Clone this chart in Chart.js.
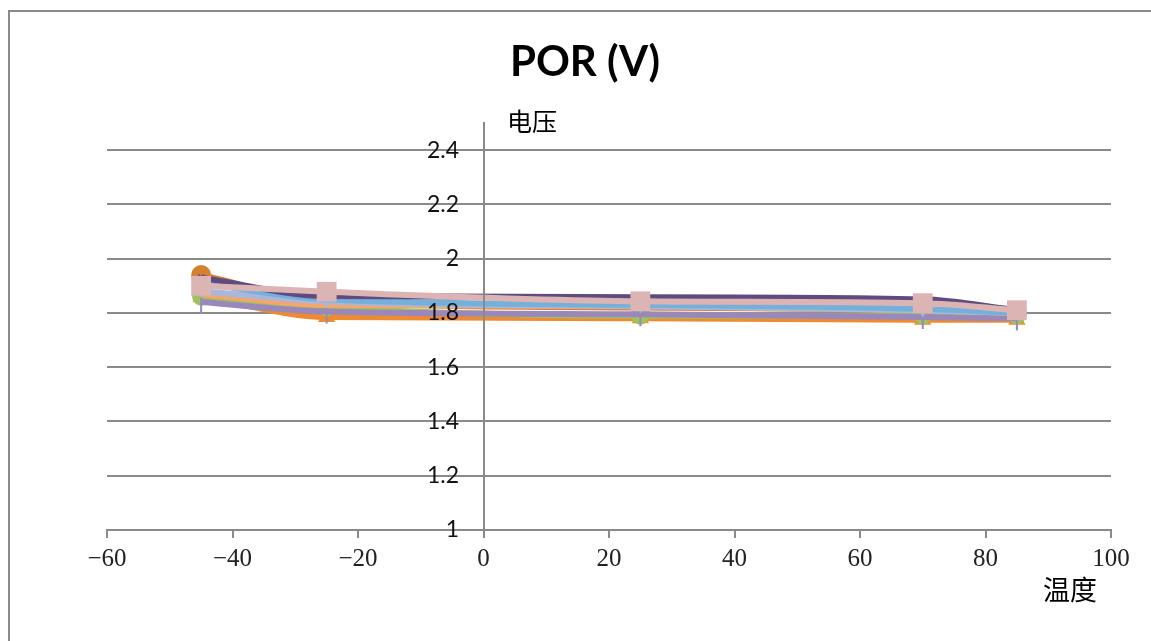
<!DOCTYPE html>
<html>
<head>
<meta charset="utf-8">
<script src="https://cdn.jsdelivr.net/npm/chart.js@4"></script>
<style>
	html, body { margin: 0; padding: 0; background: #fff; }
	#wrap { width: 1151px; height: 641px; position: relative; }
</style>
</head>
<body>
<div id="wrap"><canvas id="graph" width="1151" height="641"></canvas></div>
<script>
// temperature points (x axis)
const temps = [-45, -25, 25, 70, 85];

// voltage series
const pinkSquare = [1.90, 1.878, 1.843, 1.836, 1.81];
const brownCircle = [1.94, 1.84, 1.82, 1.81, 1.80];
const darkPurple = [1.93, 1.862, 1.858, 1.85, 1.81];
const lightBlue = [1.91, 1.85, 1.83, 1.815, 1.80];
const blueGrey = [1.88, 1.843, 1.825, 1.81, 1.80];
const lightOrange = [1.87, 1.83, 1.825, 1.81, 1.80];
const greenCircle = [1.86, 1.82, 1.79, 1.79, 1.79];
const purple = [1.84, 1.805, 1.795, 1.785, 1.78];
const orangeTriangle = [1.86, 1.785, 1.78, 1.775, 1.775];

const yTicks = [1, 1.2, 1.4, 1.6, 1.8, 2, 2.2, 2.4];

const toPoints = (vals) => vals.map((v, i) => ({ x: temps[i], y: v }));

// first dataset ends up on top
const seriesList = [
	{ data: pinkSquare, color: "#dcb4b4", style: "rect", r: 14 },
	{ data: darkPurple, color: "#5e4b80", style: "crossRot", r: 4 },
	{ data: lightBlue, color: "#74b0da", style: "circle", r: 3 },
	{ data: blueGrey, color: "#a9b8da", style: "triangle", r: 7, rot: 180 },
	{ data: lightOrange, color: "#f7a56c", style: "circle", r: 3 },
	{ data: purple, color: "#9a88ba", style: "line", r: 12, rot: 90 },
	{ data: greenCircle, color: "#9fc25e", style: "circle", r: 9 },
	{ data: orangeTriangle, color: "#ee8a30", style: "triangle", r: 10 },
	{ data: brownCircle, color: "#d5812f", style: "circle", r: 10 },
];

const datasets = seriesList.map((s) => ({
	data: toPoints(s.data),
	borderColor: s.color,
	backgroundColor: s.color,
	borderWidth: 6,
	pointStyle: s.style,
	pointRadius: s.r,
	pointRotation: s.rot || 0,
	pointBorderWidth: s.style === "line" || s.style === "crossRot" ? 2 : 0,
	pointBorderColor: s.color,
	showLine: true,
	tension: 0.4,
	cubicInterpolationMode: "monotone",
}));

// frame and loose texts
const decor = {
	id: "decor",
	beforeDraw(chart) {
		const ctx = chart.ctx;
		ctx.save();
		ctx.strokeStyle = "#8a8a8a";
		ctx.lineWidth = 2;
		ctx.beginPath();
		ctx.moveTo(9, 641);
		ctx.lineTo(9, 11);
		ctx.lineTo(1151, 11);
		ctx.stroke();
		ctx.restore();
	},
	afterDraw(chart) {
		const ctx = chart.ctx;
		ctx.save();
		ctx.fillStyle = "#000";
		ctx.textAlign = "center";
		ctx.textBaseline = "middle";
		ctx.font = "bold 42px Lato, 'Open Sans', sans-serif";
		ctx.fillText("POR (V)", 585, 62);
		ctx.font = "25px 'Noto Sans CJK SC'";
		ctx.fillText("电压", 532, 121);
		ctx.font = "27px 'Noto Sans CJK SC'";
		ctx.fillText("温度", 1070, 590);
		ctx.restore();
	},
};

const yCommon = {
	type: "linear",
	min: 1,
	max: 2.5,
	afterBuildTicks: (scale) => { scale.ticks = yTicks.map((v) => ({ value: v })); },
};

new Chart(document.getElementById("graph"), {
	type: "scatter",
	data: { datasets: datasets },
	plugins: [decor],
	options: {
		responsive: false,
		animation: false,
		layout: { padding: { left: 107, right: 40, top: 123, bottom: 0 } },
		plugins: { legend: { display: false }, tooltip: { enabled: false } },
		scales: {
			x: {
				type: "linear",
				min: -60,
				max: 100,
				afterFit: (scale) => { scale.height = 111; },
				ticks: {
					stepSize: 20,
					padding: 6,
					color: "#222",
					font: { family: "'Liberation Serif', 'DejaVu Serif', serif", size: 25 },
					callback: (v) => String(v).replace("-", "\u2212"),
				},
				grid: { drawOnChartArea: false, drawTicks: true, tickLength: 8, color: "#8a8a8a", lineWidth: 2 },
				border: { display: true, color: "#8a8a8a", width: 2 },
			},
			// gridlines only, under the data
			y: Object.assign({}, yCommon, {
				position: { x: 0 },
				ticks: { display: false },
				grid: { drawTicks: false, color: "#8a8a8a", lineWidth: 2 },
				border: { display: false },
			}),
			// axis line over the data
			yLine: Object.assign({}, yCommon, {
				axis: "y",
				position: { x: 0 },
				ticks: { display: false },
				grid: { drawOnChartArea: false, drawTicks: false },
				border: { display: true, color: "#8a8a8a", width: 2, z: 2 },
			}),
			// tick labels over the data, a little left of the axis
			yLabels: Object.assign({}, yCommon, {
				axis: "y",
				position: { x: -3.9 },
				ticks: {
					z: 2,
					color: "#111",
					font: { family: "Lato, 'Open Sans', sans-serif", size: 23 },
					callback: (v) => String(v),
				},
				grid: { drawOnChartArea: false, drawTicks: false },
				border: { display: false },
			}),
		},
	},
});
</script>
</body>
</html>
